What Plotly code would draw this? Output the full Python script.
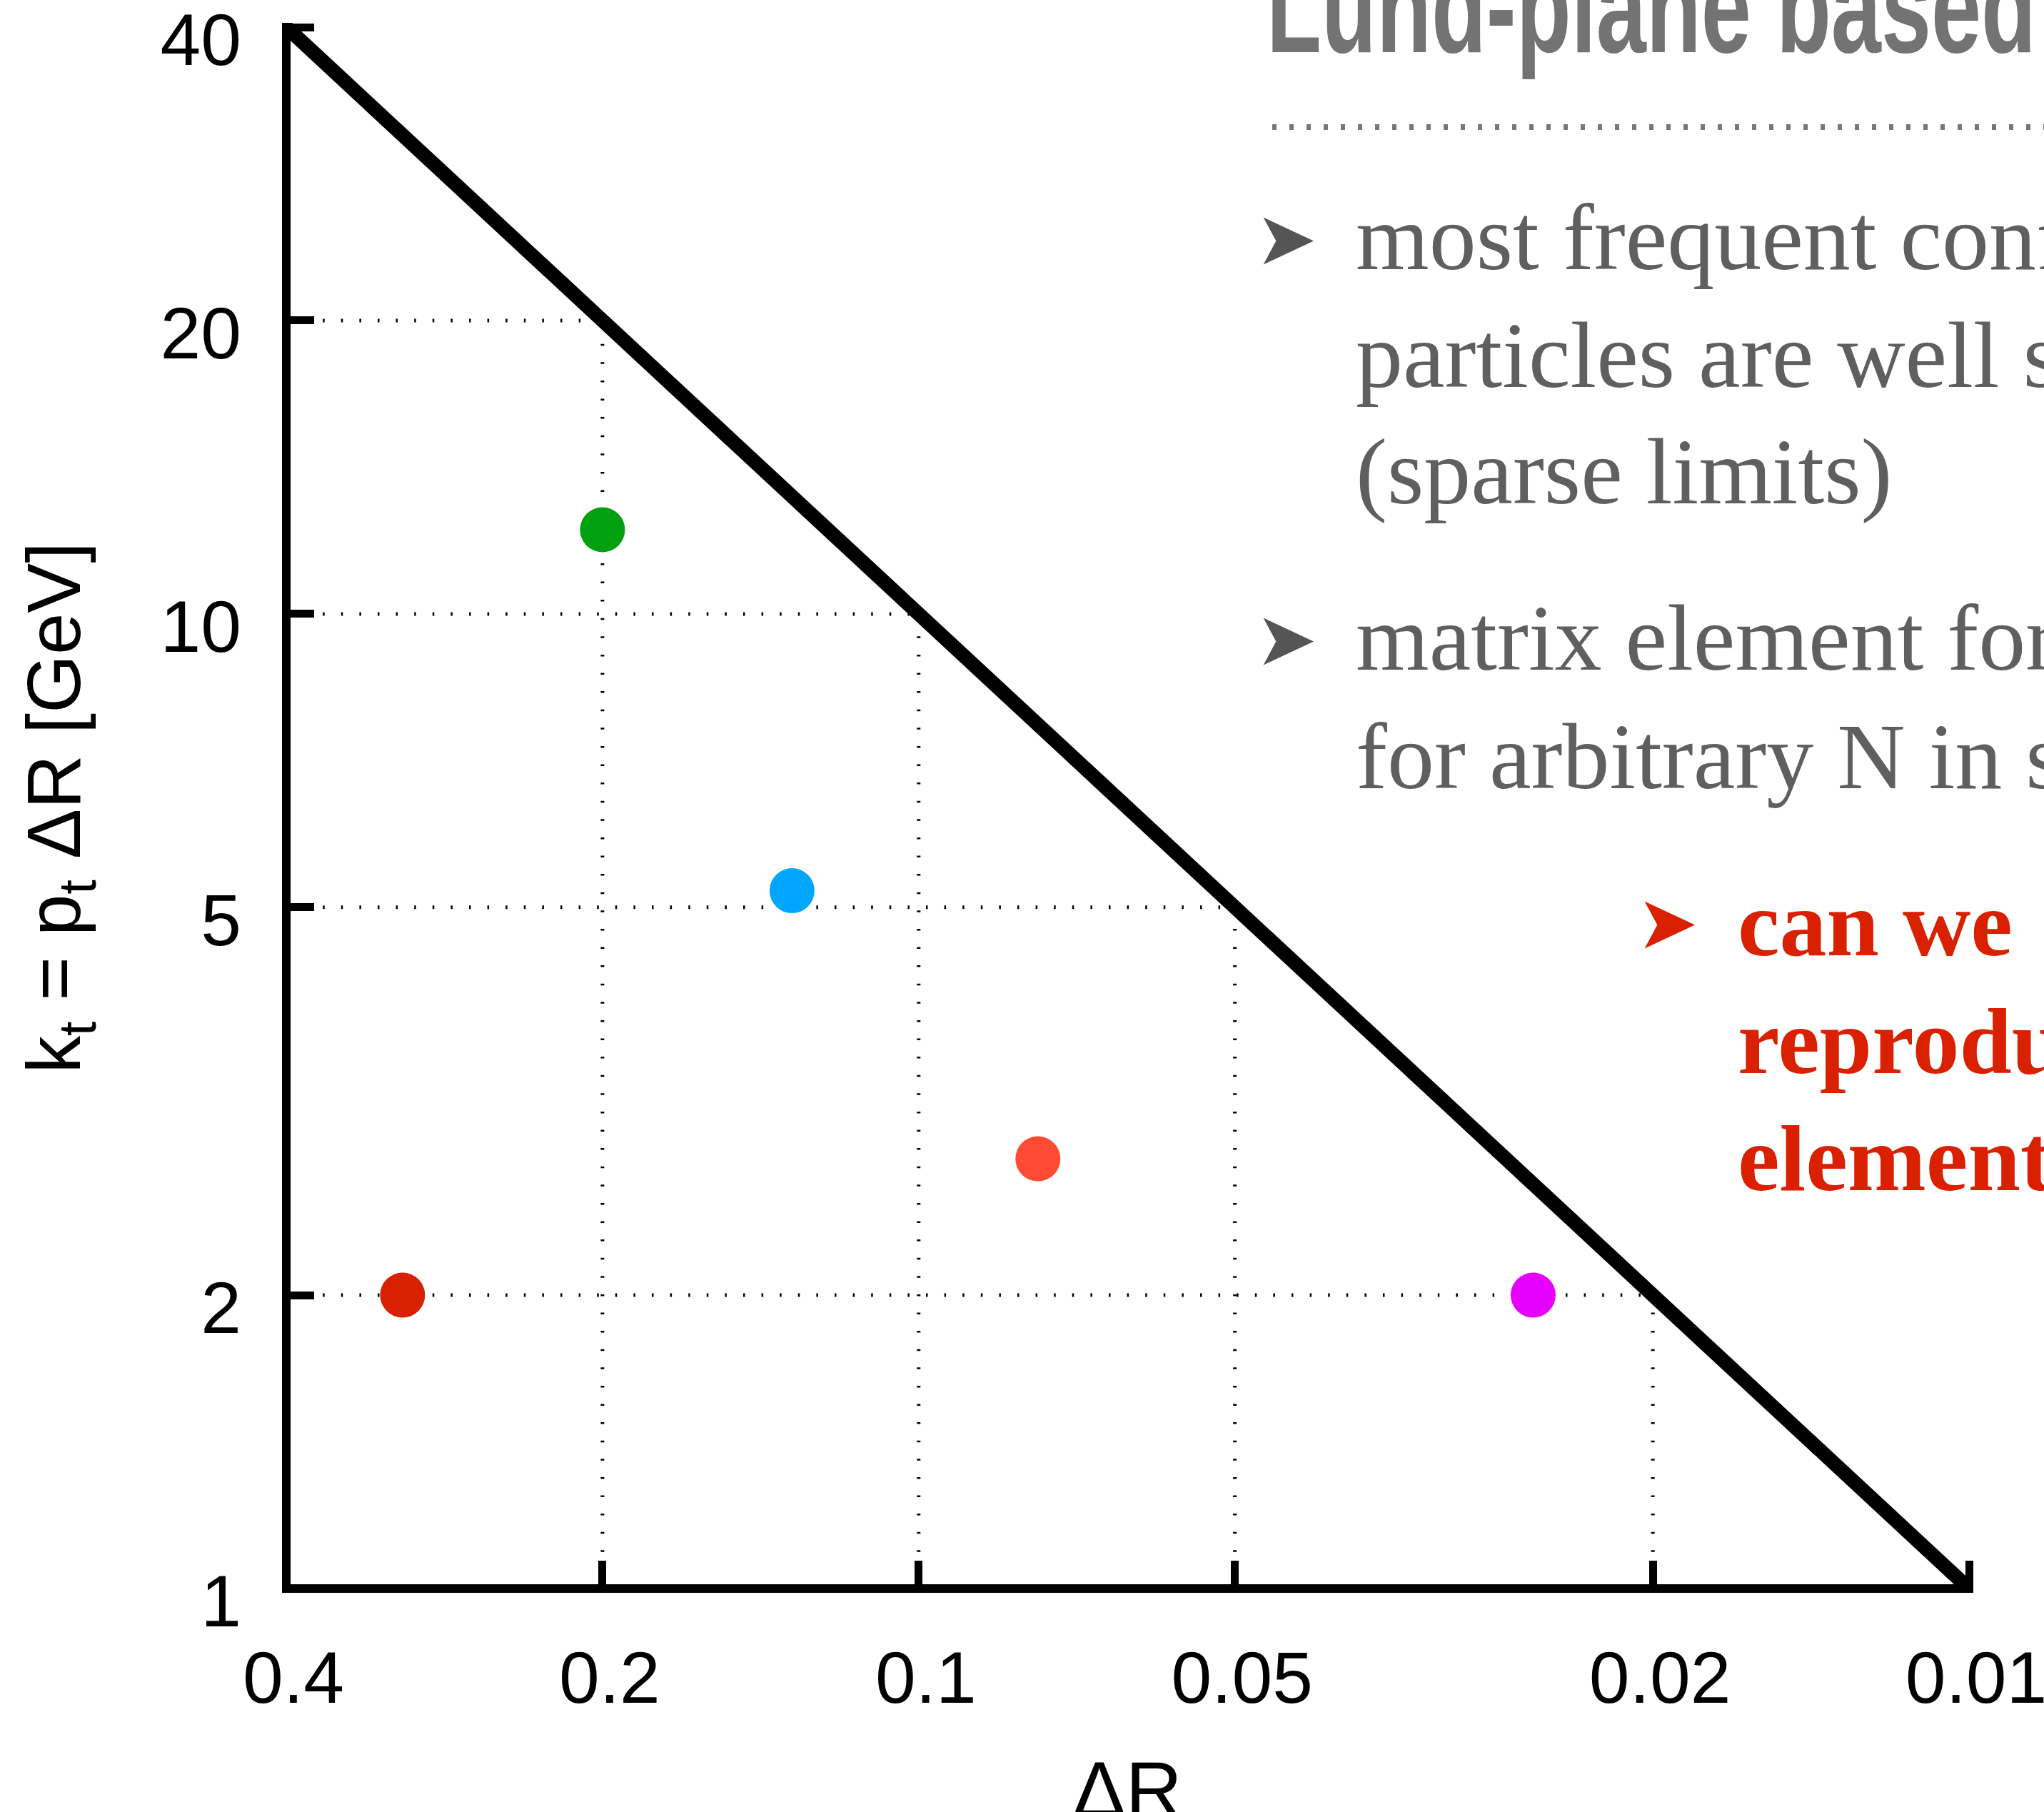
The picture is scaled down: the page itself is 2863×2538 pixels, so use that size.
import math
import plotly.graph_objects as go

# Lund-plane emissions: opening angle ΔR and relative transverse momentum kt [GeV]
emission_dR = [0.31, 0.2, 0.132, 0.077, 0.026]
emission_kt = [2.0, 12.2, 5.2, 2.76, 2.0]
emission_colors = ["#D92000", "#00A010", "#00A5FF", "#FF4B33", "#E800FF"]

# kinematic limit kt = pt * ΔR for a jet of this pt
jet_pt = 100.0
dR_min, dR_max = 0.01, 0.4
kt_min, kt_max = 1.0, 40.0

x_tickvals = [0.4, 0.2, 0.1, 0.05, 0.02, 0.01]
x_ticktext = ["0.4", "0.2", "0.1", "0.05", "0.02", "0.01"]
y_tickvals = [1, 2, 5, 10, 20, 40]
y_ticktext = ["1", "2", "5", "10", "20", "40"]

# kt values of the dotted guide lines running up to the kinematic limit
guide_kt = [20, 10, 5, 2]

x_title = "ΔR"
y_title = "k<sub>t</sub> = p<sub>t</sub> ΔR [GeV]"

gray_lines = [
    "most frequent configurations",
    "particles are well separated",
    "(sparse limits)",
    "matrix element for",
    "for arbitrary N in soft",
]
red_lines = ["can we", "reproduce", "element"]
panel_title = "Lund-plane based"

# ---------------------------------------------------------------- geometry
W, H = 2863, 2538
L, R, T, B = 395, 2764, 32, 2231          # plotting box (pixels)
pad = 6                                    # half the axis-line width
x_ppd = (R - L - 2 * pad) / math.log10(dR_max / dR_min)
y_ppd = (B - T - 2 * pad) / math.log10(kt_max / kt_min)
x_range = [math.log10(dR_max) + pad / x_ppd, math.log10(dR_min) - pad / x_ppd]
y_range = [math.log10(kt_min) - pad / y_ppd, math.log10(kt_max) + pad / y_ppd]


def px(xp):
    return (xp - L) / (R - L)


def py(yp):
    return (B - yp) / (B - T)


fig = go.Figure()

# dotted guides: horizontal from the kt axis, vertical from the ΔR axis
gx, gy = [], []
for k in guide_kt:
    d = k / jet_pt
    gx += [dR_max, d, None, d, d, None]
    gy += [k, k, None, kt_min, k, None]
fig.add_trace(go.Scatter(
    x=gx, y=gy, mode="lines", hoverinfo="skip",
    line=dict(color="black", width=5, dash="2.5px,23.1px"),
))

# axis frame (left and bottom), extended past the box so the clip squares it off
fig.add_trace(go.Scatter(
    x=[dR_max, dR_max, dR_min * 0.9],
    y=[kt_max * 1.1, kt_min, kt_min],
    mode="lines", hoverinfo="skip",
    line=dict(color="black", width=12),
))

# kinematic limit kt = pt ΔR
lim_dR = [dR_max * 1.1, dR_min / 1.1]
fig.add_trace(go.Scatter(
    x=lim_dR, y=[jet_pt * d for d in lim_dR],
    mode="lines", hoverinfo="skip",
    line=dict(color="black", width=20),
))

# emissions
fig.add_trace(go.Scatter(
    x=emission_dR, y=emission_kt, mode="markers",
    marker=dict(size=63, color=emission_colors, line=dict(width=0)),
    cliponaxis=False,
))

sans = "Liberation Sans, Arial, sans-serif"
tick_font = dict(family=sans, size=102, color="black")

fig.update_xaxes(
    type="log", range=x_range, tickvals=x_tickvals, ticktext=x_ticktext,
    ticks="inside", ticklen=45, tickwidth=11, tickcolor="black",
    showline=False, showgrid=False, zeroline=False,
    tickfont=tick_font, ticklabelstandoff=51, ticklabelshift=-10,
    ticklabeloverflow="allow",
    automargin=False,
)
fig.update_yaxes(
    type="log", range=y_range, tickvals=y_tickvals, ticktext=y_ticktext,
    ticks="inside", ticklen=45, tickwidth=11, tickcolor="black",
    showline=False, showgrid=False, zeroline=False,
    tickfont=tick_font, ticklabelstandoff=56, ticklabelshift=17,
    ticklabeloverflow="allow",
    title=dict(text=y_title, font=dict(family=sans, size=105, color="black"), standoff=76),
    automargin=False,
)

annotations = []

# ΔR axis title: sits low, running off the bottom edge of the page
annotations.append(dict(
    text=x_title, xref="paper", yref="paper",
    x=0.5, y=py(2444), xanchor="center", yanchor="top",
    showarrow=False, borderpad=0, borderwidth=0,
    font=dict(family=sans, size=110, color="black"),
))

# panel heading (bold sans, stretched vertically after rendering)
annotations.append(dict(
    text=f"<b>{panel_title}</b>", xref="paper", yref="paper",
    x=px(1774), y=py(112), xanchor="left", yanchor="bottom",
    showarrow=False, borderpad=0, borderwidth=0,
    font=dict(family=sans, size=126, color="#727372"),
))

serif = "Liberation Serif, Times New Roman, serif"
gray_baselines = [378, 543, 706, 938, 1104]
for txt, bl in zip(gray_lines, gray_baselines):
    annotations.append(dict(
        text=txt, xref="paper", yref="paper",
        x=px(1899), y=py(bl + 28.5), xanchor="left", yanchor="bottom",
        showarrow=False, borderpad=0, borderwidth=0,
        font=dict(family=serif, size=132, color="#5F5F5F"),
    ))

red_baselines = [1339, 1503, 1667]
for txt, bl in zip(red_lines, red_baselines):
    annotations.append(dict(
        text=f"<b>{txt}</b>", xref="paper", yref="paper",
        x=px(2434), y=py(bl + 28.5), xanchor="left", yanchor="bottom",
        showarrow=False, borderpad=0, borderwidth=0,
        font=dict(family=serif, size=132, color="#D92000"),
    ))

# bullet arrowheads
for (bx, by, col) in [(1758, 334, "#555555"), (1758, 895, "#555555"), (2292, 1292, "#D92000")]:
    annotations.append(dict(
        text="➤", xref="paper", yref="paper",
        x=px(bx), y=py(by), xanchor="left", yanchor="middle",
        showarrow=False, borderpad=0, borderwidth=0,
        font=dict(family="DejaVu Sans, sans-serif", size=104, color=col),
    ))

shapes = [dict(
    type="line", xref="paper", yref="paper",
    x0=px(1782), x1=px(2900), y0=py(178), y1=py(178),
    line=dict(color="#777777", width=8, dash="6px,18px"),
)]

fig.update_layout(
    width=W, height=H, autosize=False,
    margin=dict(l=L, r=W - R, t=T, b=H - B, pad=0),
    paper_bgcolor="white", plot_bgcolor="white",
    showlegend=False,
    annotations=annotations, shapes=shapes,
)

# condensed-looking heading: stretch the bold heading vertically about its box bottom
stretch_js = """
var gd = document.getElementById('{plot_id}');
gd.querySelectorAll('.annotation-text').forEach(function (t) {
  if (t.textContent === '%s') {
    t.style.transformBox = 'fill-box';
    t.style.transformOrigin = '50%% 100%%';
    t.style.transform = 'scaleY(1.46)';
  }
});
""" % panel_title

fig.write_html("out.html", post_script=stretch_js)
